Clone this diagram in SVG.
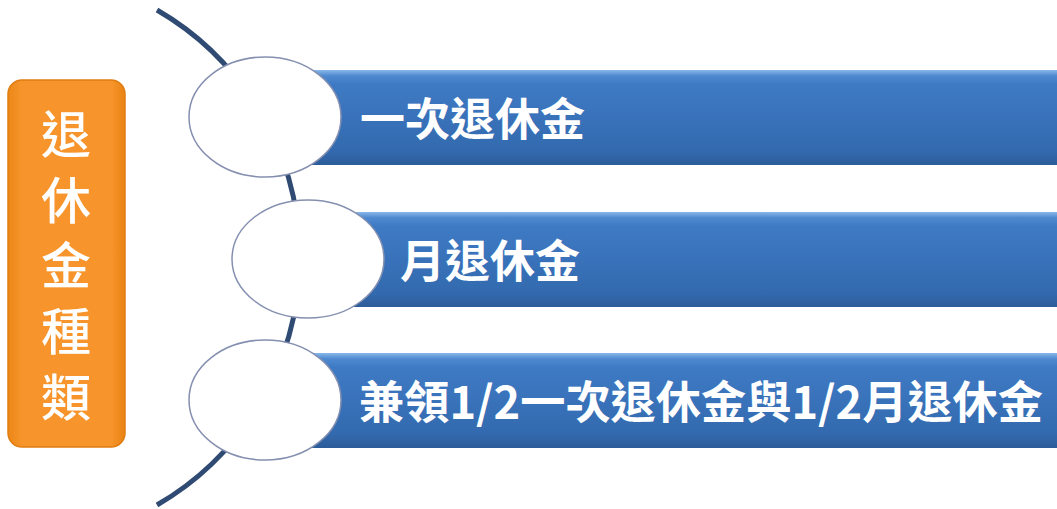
<svg xmlns="http://www.w3.org/2000/svg" width="1057" height="509" viewBox="0 0 1057 509">
<defs>
<linearGradient id="bar" x1="0" y1="0" x2="0" y2="1">
<stop offset="0" stop-color="#8ab8ea"/>
<stop offset="0.06" stop-color="#4f8ad0"/>
<stop offset="0.15" stop-color="#3e7ac4"/>
<stop offset="0.85" stop-color="#336aaf"/>
<stop offset="1" stop-color="#2c5c99"/>
</linearGradient>
<linearGradient id="org" x1="0" y1="0" x2="1" y2="0">
<stop offset="0" stop-color="#ec8716"/>
<stop offset="0.12" stop-color="#f7952c"/>
<stop offset="0.88" stop-color="#f7952c"/>
<stop offset="1" stop-color="#e98414"/>
</linearGradient>
<style>
.bar{fill:url(#bar);}
.ell{fill:#ffffff;stroke:#8590b0;stroke-width:1.5;}
.t{font-family:"Noto Sans CJK TC","Noto Sans CJK SC",sans-serif;font-weight:bold;fill:#ffffff;dominant-baseline:central;}
.v{font-family:"Noto Sans CJK TC","Noto Sans CJK SC",sans-serif;font-weight:500;fill:#ffffff;dominant-baseline:central;text-anchor:middle;font-size:50px;}
</style>
</defs>
<g id="connectors">
<path d="M157,10 A286,286 0 0 1 157,505" fill="none" stroke="#2f4a73" stroke-width="5"/>
</g>
<g id="title">
<rect x="8" y="80" width="117" height="367" rx="14" fill="url(#org)" stroke="#e07e12" stroke-width="1.5"/>
<text class="v" x="66" y="131">退</text>
<text class="v" x="66" y="197">休</text>
<text class="v" x="66" y="262">金</text>
<text class="v" x="66" y="328">種</text>
<text class="v" x="66" y="394">類</text>
</g>
<g id="item1">
<rect class="bar" x="300" y="70" width="757" height="95"/>
<ellipse class="ell" cx="265" cy="117" rx="76" ry="60"/>
<text class="t" x="360" y="116" font-size="45">一次退休金</text>
</g>
<g id="item2">
<rect class="bar" x="340" y="212" width="717" height="95"/>
<ellipse class="ell" cx="308" cy="259" rx="76" ry="59"/>
<text class="t" x="400" y="258" font-size="45">月退休金</text>
</g>
<g id="item3">
<rect class="bar" x="300" y="353" width="757" height="95"/>
<ellipse class="ell" cx="265" cy="400" rx="76" ry="60"/>
<text class="t" x="359" y="399" font-size="45" textLength="684" lengthAdjust="spacingAndGlyphs">兼領1/2一次退休金與1/2月退休金</text>
</g>
</svg>
